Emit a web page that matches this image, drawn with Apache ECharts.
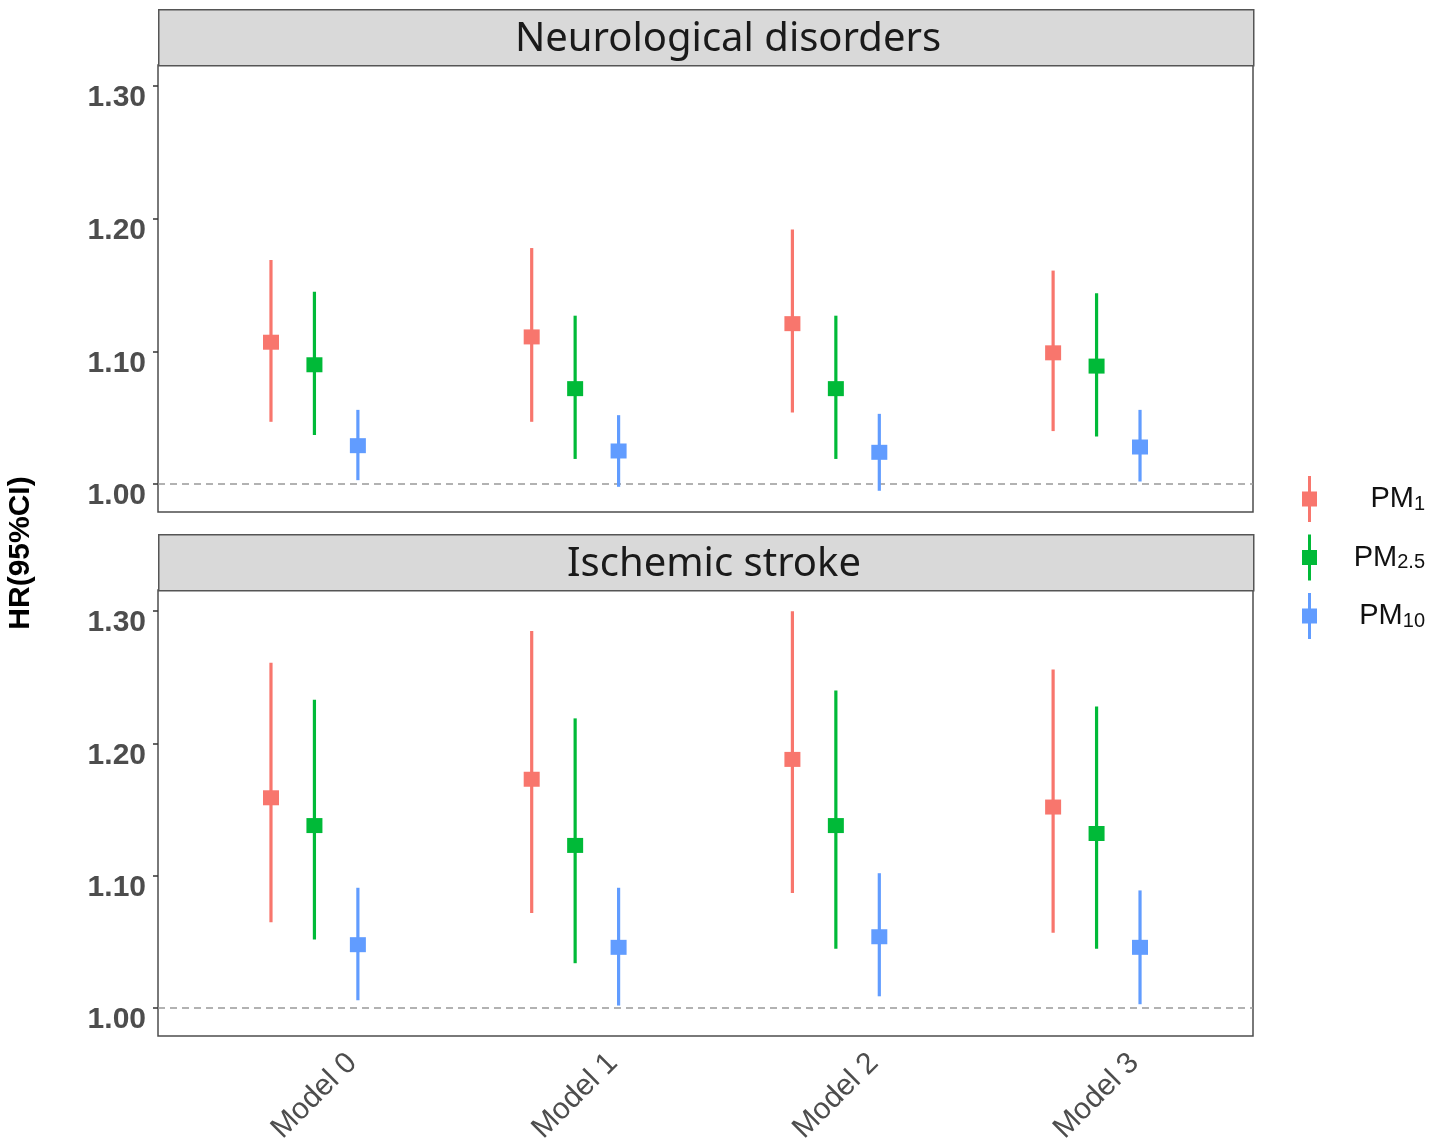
<!DOCTYPE html>
<html>
<head>
<meta charset="utf-8">
<script src="https://cdn.jsdelivr.net/npm/echarts@6/dist/echarts.min.js"></script>
<style>
html,body{margin:0;padding:0;background:#fff;}
#chart{width:1433px;height:1148px;}
</style>
</head>
<body>
<div id="chart"></div>
<script>
const categories = ['Model 0', 'Model 1', 'Model 2', 'Model 3'];
const panels = ['Neurological disorders', 'Ischemic stroke'];
const pollutants = ['PM1', 'PM2.5', 'PM10'];
const yTicks = [1.00, 1.10, 1.20, 1.30];

// Neurological disorders
const neuroPM1_hr  = [1.107, 1.111, 1.121, 1.099];
const neuroPM1_lo  = [1.047, 1.047, 1.054, 1.040];
const neuroPM1_hi  = [1.169, 1.178, 1.192, 1.161];
const neuroPM25_hr = [1.090, 1.072, 1.072, 1.089];
const neuroPM25_lo = [1.037, 1.019, 1.019, 1.036];
const neuroPM25_hi = [1.145, 1.127, 1.127, 1.144];
const neuroPM10_hr = [1.029, 1.025, 1.024, 1.028];
const neuroPM10_lo = [1.003, 0.998, 0.995, 1.002];
const neuroPM10_hi = [1.056, 1.052, 1.053, 1.056];

// Ischemic stroke
const strokePM1_hr  = [1.159, 1.173, 1.188, 1.152];
const strokePM1_lo  = [1.065, 1.072, 1.087, 1.057];
const strokePM1_hi  = [1.261, 1.285, 1.300, 1.256];
const strokePM25_hr = [1.138, 1.123, 1.138, 1.132];
const strokePM25_lo = [1.052, 1.034, 1.045, 1.045];
const strokePM25_hi = [1.233, 1.219, 1.240, 1.228];
const strokePM10_hr = [1.048, 1.046, 1.054, 1.046];
const strokePM10_lo = [1.006, 1.002, 1.009, 1.003];
const strokePM10_hi = [1.091, 1.091, 1.102, 1.089];

const colors = ['#F8766D', '#00BA38', '#619CFF'];
const dodge = [-1/6, 0, 1/6];

const panelData = [
  [[neuroPM1_hr, neuroPM1_lo, neuroPM1_hi], [neuroPM25_hr, neuroPM25_lo, neuroPM25_hi], [neuroPM10_hr, neuroPM10_lo, neuroPM10_hi]],
  [[strokePM1_hr, strokePM1_lo, strokePM1_hi], [strokePM25_hr, strokePM25_lo, strokePM25_hi], [strokePM10_hr, strokePM10_lo, strokePM10_hi]]
];

const chart = echarts.init(document.getElementById('chart'), null, {renderer: 'canvas'});

const grids = [
  {left: 158, right: 180, top: 65, height: 447},
  {left: 158, right: 180, top: 590, height: 446}
].map(g => Object.assign(g, {show: true, borderColor: '#4d4d4d', borderWidth: 1.5, backgroundColor: '#fff'}));

const xAxes = [0, 1].map(i => ({
  type: 'value', gridIndex: i, min: 0.4, max: 4.6,
  axisLine: {show: false}, axisTick: {show: false}, splitLine: {show: false},
  axisLabel: i === 0 ? {show: false} : {
    show: true,
    customValues: [1, 2, 3, 4],
    formatter: v => categories[Math.round(v) - 1],
    rotate: 45, align: 'center', verticalAlign: 'middle', margin: 60,
    fontFamily: 'Liberation Sans', fontSize: 30, color: '#4d4d4d'
  }
}));

const yAxes = [0, 1].map(i => ({
  type: 'value', gridIndex: i, min: 0.979, max: 1.316,
  axisLine: {show: false},
  splitLine: {show: false},
  axisTick: {show: true, customValues: yTicks, length: 5, lineStyle: {color: '#333', width: 1.5}},
  axisLabel: {
    show: true, customValues: yTicks,
    formatter: v => v.toFixed(2),
    fontFamily: 'Liberation Sans', fontWeight: 'bold', fontSize: 30, color: '#4d4d4d',
    margin: 12, verticalAlign: 'top', lineHeight: 24
  }
}));

const series = [];
// points
for (let p = 0; p < 2; p++) {
  for (let k = 0; k < 3; k++) {
    const hr = panelData[p][k][0];
    const s = {
      type: 'scatter', name: pollutants[k], xAxisIndex: p, yAxisIndex: p,
      symbol: 'rect', symbolSize: [16, 15], z: 4,
      itemStyle: {color: colors[k], opacity: 1},
      data: hr.map((v, i) => [i + 1 + dodge[k], v]),
      silent: true
    };
    if (k === 0) {
      s.markLine = {
        silent: true, symbol: 'none', label: {show: false},
        lineStyle: {color: '#999', type: [7, 5], width: 1.5},
        data: [{yAxis: 1}], z: 1
      };
    }
    series.push(s);
  }
}
// CI lines
for (let p = 0; p < 2; p++) {
  for (let k = 0; k < 3; k++) {
    const [hr, lo, hi] = panelData[p][k];
    const col = colors[k];
    series.push({
      type: 'custom', name: pollutants[k], xAxisIndex: p, yAxisIndex: p, z: 3,
      itemStyle: {color: col},
      encode: {x: 0, y: [1, 2]},
      data: lo.map((v, i) => [i + 1 + dodge[k], v, hi[i]]),
      renderItem: (params, api) => {
        const x = api.value(0);
        const a = api.coord([x, api.value(1)]);
        const b = api.coord([x, api.value(2)]);
        return {type: 'line', shape: {x1: a[0], y1: a[1], x2: b[0], y2: b[1]},
                style: {stroke: col, lineWidth: 3.2}};
      },
      silent: true
    });
  }
}

const legendLabels = {'PM1': '{a|PM}{s|1}', 'PM2.5': '{a|PM}{s|2.5}', 'PM10': '{a|PM}{s|10}'};

const option = {
  backgroundColor: '#fff',
  animation: false,
  grid: grids,
  xAxis: xAxes,
  yAxis: yAxes,
  legend: {
    orient: 'vertical', left: 1302, top: 476, padding: 0,
    itemWidth: 15, itemHeight: 46, itemGap: 12.5,
    data: pollutants.map(n => ({name: n, icon: 'path://M6,0L9,0L9,46L6,46Z M0,15.5L15,15.5L15,30.5L0,30.5Z'})),
    formatter: n => legendLabels[n],
    selectedMode: false,
    textStyle: {
      width: 103,
      rich: {
        a: {fontFamily: 'Liberation Sans', fontSize: 29, color: '#111', align: 'right', lineHeight: 30},
        s: {fontFamily: 'Liberation Sans', fontSize: 20, color: '#111', align: 'right', verticalAlign: 'bottom', lineHeight: 14}
      }
    }
  },
  graphic: [
    {type: 'rect', left: 158, top: 9, shape: {width: 1095, height: 56}, style: {fill: '#d9d9d9', stroke: '#555', lineWidth: 1.5}, z: 10},
    {type: 'text', x: 728, y: 40, style: {text: panels[0], fontFamily: 'Noto Sans', fontSize: 40, fill: '#1a1a1a', align: 'center', verticalAlign: 'middle'}, z: 11},
    {type: 'rect', left: 158, top: 534, shape: {width: 1095, height: 56}, style: {fill: '#d9d9d9', stroke: '#555', lineWidth: 1.5}, z: 10},
    {type: 'text', x: 714, y: 565, style: {text: panels[1], fontFamily: 'Noto Sans', fontSize: 40, fill: '#1a1a1a', align: 'center', verticalAlign: 'middle'}, z: 11},
    {type: 'text', x: 21, y: 553, rotation: Math.PI / 2, style: {text: 'HR(95%CI)', fontFamily: 'Liberation Sans', fontWeight: 'bold', fontSize: 30, fill: '#000', align: 'center', verticalAlign: 'middle'}, z: 11}
  ],
  series: series
};

chart.setOption(option);
</script>
</body>
</html>
